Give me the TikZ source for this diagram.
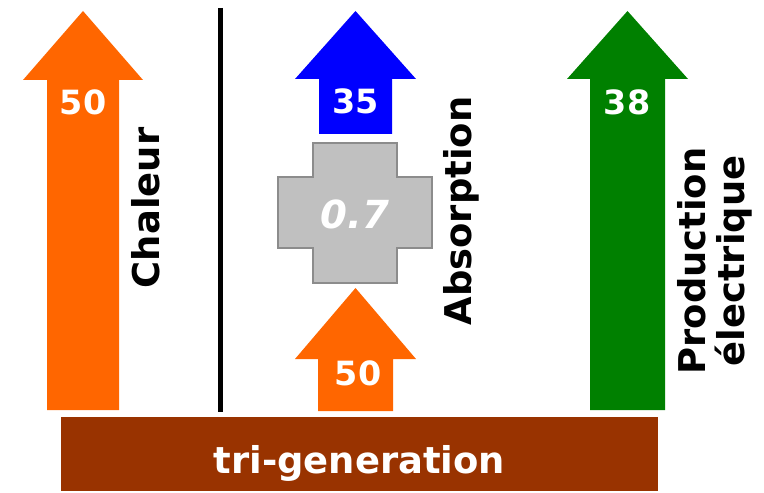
\documentclass[tikz,border=0pt]{standalone}
\usepackage{fontspec}
\setmainfont{DejaVu Sans}
\usepackage{tikz}
\definecolor{heatorange}{HTML}{FF6600}
\definecolor{coldblue}{HTML}{0000FF}
\definecolor{elecgreen}{HTML}{008000}
\definecolor{plantbrown}{HTML}{993300}
\definecolor{crossgray}{HTML}{C0C0C0}
\definecolor{crossline}{HTML}{8C8C8C}
\tikzset{%
  qty/.style={text=white,inner sep=0pt,font=\fontsize{19}{19}\selectfont\bfseries},
  caption/.style={rotate=90,inner sep=0pt,align=center,
    font=\fontsize{21}{22}\selectfont\bfseries},
  plant/.style={fill=plantbrown,text=white,inner sep=0pt,
    minimum width=597*0.02cm,minimum height=74*0.02cm,
    text height=22pt,text depth=0pt,
    font=\fontsize{21}{21}\selectfont\bfseries},
  divider/.style={line width=2.3pt}
}

\begin{document}
\begin{tikzpicture}[x=0.02cm,y=-0.02cm]
    \useasboundingbox (0,0) rectangle (764,493);

    % heat output
    \fill[heatorange] (47,410) -- (47,80) -- (23,80) -- (83,11) -- (143,80)
      -- (119,80) -- (119,410) -- cycle;
    \node [qty] (heatval) at (83,102) {50};
    \node [caption] (heat) at (146,208) {Chaleur};

    \draw [divider] (220.5,8) -- (220.5,412);

    % absorption machine
    \fill[coldblue] (319,134) -- (319,79) -- (295,79) -- (355.5,11) -- (416,79)
      -- (392,79) -- (392,134) -- cycle;
    \node [qty] (coldval) at (355.5,101) {35};
    \filldraw[fill=crossgray,draw=crossline,line width=1.2pt]
      (313,143) -- (397,143) -- (397,177) -- (432,177) -- (432,248)
      -- (397,248) -- (397,283) -- (313,283) -- (313,248) -- (278,248)
      -- (278,177) -- (313,177) -- cycle;
    \node [qty,font=\fontsize{22}{22}\selectfont\bfseries\itshape] (cop) at (355,214) {0.7};
    \fill[heatorange] (318,411) -- (318,359) -- (295,359) -- (355.5,288) -- (416,359)
      -- (393,359) -- (393,411) -- cycle;
    \node [qty] (absval) at (358,373) {50};
    \node [caption] (absorp) at (461,211) {Absorption};

    % electricity
    \fill[elecgreen] (590,410) -- (590,79) -- (567,79) -- (627.5,11) -- (688,79)
      -- (665,79) -- (665,410) -- cycle;
    \node [qty] (elecval) at (627,102) {38};
    \node [caption] (elec) at (715,261) {Production\\électrique};

    \node [plant] (trigen) at (359.5,454) {tri-generation};
\end{tikzpicture}
\end{document}
